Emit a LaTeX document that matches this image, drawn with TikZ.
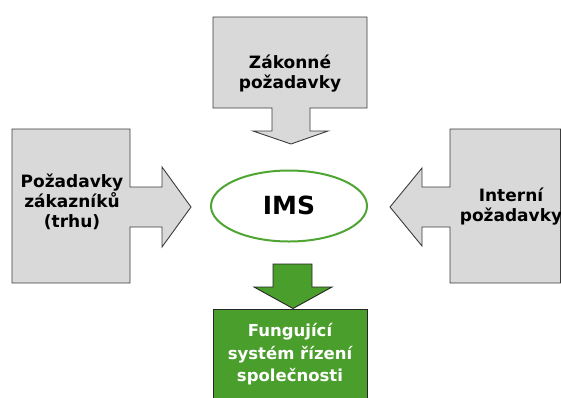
\documentclass[tikz,border=0pt]{standalone}
\usepackage{fontspec}
\setmainfont{DejaVu Sans}
\usetikzlibrary{shapes.geometric}
\definecolor{boxgray}{RGB}{217,217,217}
\definecolor{edgegray}{RGB}{60,60,60}
\definecolor{imsgreen}{RGB}{78,165,50}
\definecolor{fillgreen}{RGB}{74,158,44}
\tikzset{
  grayshape/.style={fill=boxgray, draw=edgegray, line width=0.9pt, line join=miter},
  greenshape/.style={fill=fillgreen, draw=black!85, line width=0.9pt},
  lbl/.style={align=center, font=\bfseries\fontsize{17}{20}\selectfont, text=black, inner sep=0pt},
  wlbl/.style={align=center, font=\bfseries\fontsize{16.5}{22.5}\selectfont, text=white, inner sep=0pt},
}
\begin{document}
\begin{tikzpicture}[x=1pt,y=-1pt]
\useasboundingbox (0,0) rectangle (561,397);
% left
\draw[grayshape] (12,129) -- (130,129) -- (130,187) -- (162,187) -- (162,167) -- (191,207) -- (162,247) -- (162,227) -- (130,227) -- (130,283) -- (12,283) -- cycle;
% top
\draw[grayshape] (213,17) -- (367,17) -- (367,108) -- (310,108) -- (310,131) -- (328,131) -- (291,144) -- (253,131) -- (272,131) -- (272,108) -- (213,108) -- cycle;
% right
\draw[grayshape] (560.5,129) -- (450,129) -- (450,187) -- (422,187) -- (422,168) -- (390,207) -- (422,246) -- (422,227) -- (450,227) -- (450,283) -- (560.5,283) -- cycle;
% green arrow and box
\draw[greenshape] (273,264) -- (312,264) -- (312,287) -- (332,287) -- (293,308.5) -- (254,287) -- (273,287) -- cycle;
\draw[greenshape] (213,398) -- (213,309.5) -- (367,309.5) -- (367,398);
% ellipse
\node[ellipse, draw=imsgreen, line width=2pt, fill=white, minimum width=156pt, minimum height=71pt, inner sep=0pt] (ims) at (289,206) {};
\node[font=\bfseries\fontsize{25}{28}\selectfont, inner sep=0pt] (imslbl) at (289,205) {IMS};
% labels
\node[lbl] (zak) at (72,202) {Požadavky\\zákazníků\\(trhu)};
\node[lbl] (legal) at (290,74) {Zákonné\\požadavky};
\node[lbl] (intern) at (511,207) {Interní\\požadavky};
\node[wlbl] (result) at (290,354.5) {Fungující\\systém řízení\\společnosti};
\end{tikzpicture}
\end{document}
